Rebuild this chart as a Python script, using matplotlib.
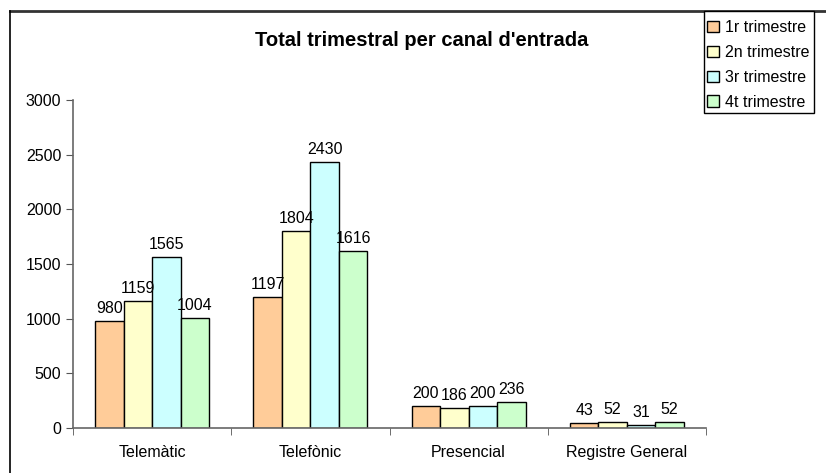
import matplotlib
matplotlib.use('Agg')
import matplotlib.pyplot as plt
from matplotlib.lines import Line2D
from matplotlib.patches import Rectangle
import numpy as np

plt.rcParams['font.family'] = ['Liberation Sans', 'DejaVu Sans']

canals = ['Telemàtic', 'Telefònic', 'Presencial', 'Registre General']
trimestres = ['1r trimestre', '2n trimestre', '3r trimestre', '4t trimestre']
t1 = [980, 1197, 200, 43]
t2 = [1159, 1804, 186, 52]
t3 = [1565, 2430, 200, 31]
t4 = [1004, 1616, 236, 52]
colors = ['#FFCC99', '#FFFFCC', '#CCFFFF', '#CCFFCC']

W, H = 826, 473
fig = plt.figure(figsize=(W/100, H/100), dpi=100)
ax = fig.add_axes([73/W, 45/H, (706-73)/W, (428-100)/H])

x = np.arange(len(canals))
w = 0.18
series = [t1, t2, t3, t4]
for i, vals in enumerate(series):
    pos = x + (i - 1.5) * w
    bars = ax.bar(pos, vals, w, color=colors[i], edgecolor='black', linewidth=1,
                  label=trimestres[i])
    for b, v in zip(bars, vals):
        ax.text(b.get_x() + b.get_width()/2, v + 45, str(v), ha='center', va='bottom',
                fontsize=11.5)

ax.set_xlim(-0.5, 3.5)
ax.set_ylim(0, 3000)
ax.set_yticks(range(0, 3001, 500))
ax.set_xticks(x)
ax.set_xticklabels(canals, fontsize=11.5)
ax.set_xticks(np.arange(-0.5, 4, 1), minor=True)
ax.tick_params(axis='x', which='major', length=0, pad=12)
ax.tick_params(axis='x', which='minor', length=5, color='#555555', direction='out')
ax.tick_params(axis='y', labelsize=11.5, length=5, color='#555555')
for s in ['top', 'right']:
    ax.spines[s].set_visible(False)
for s in ['left', 'bottom']:
    ax.spines[s].set_color('#666666')
    ax.spines[s].set_linewidth(1.2)

fig.text(422/W, 1 - 40/H, "Total trimestral per canal d'entrada", ha='center',
         va='center', fontsize=14.5, fontweight='bold')

# outer chart border (cropped)
fig.add_artist(Line2D([10/W, 1], [1 - 11.5/H] * 2, color='#333333', linewidth=2))
fig.add_artist(Line2D([10/W] * 2, [0, 1 - 11.5/H], color='black', linewidth=1.2))

# legend box
fig.add_artist(Rectangle((704/W, 1 - 113/H), 110/W, 102/H, transform=fig.transFigure,
                         facecolor='white', edgecolor='black', linewidth=1, zorder=5))
leg = fig.legend(loc='upper left', bbox_to_anchor=(704/W, 1 - 17/H), fontsize=11.5,
                 frameon=False, handlelength=0.75, handleheight=0.75, handletextpad=0.35,
                 borderpad=0.2, labelspacing=0.62, borderaxespad=0)
leg.set_zorder(6)

fig.savefig('out.png', dpi=100)
